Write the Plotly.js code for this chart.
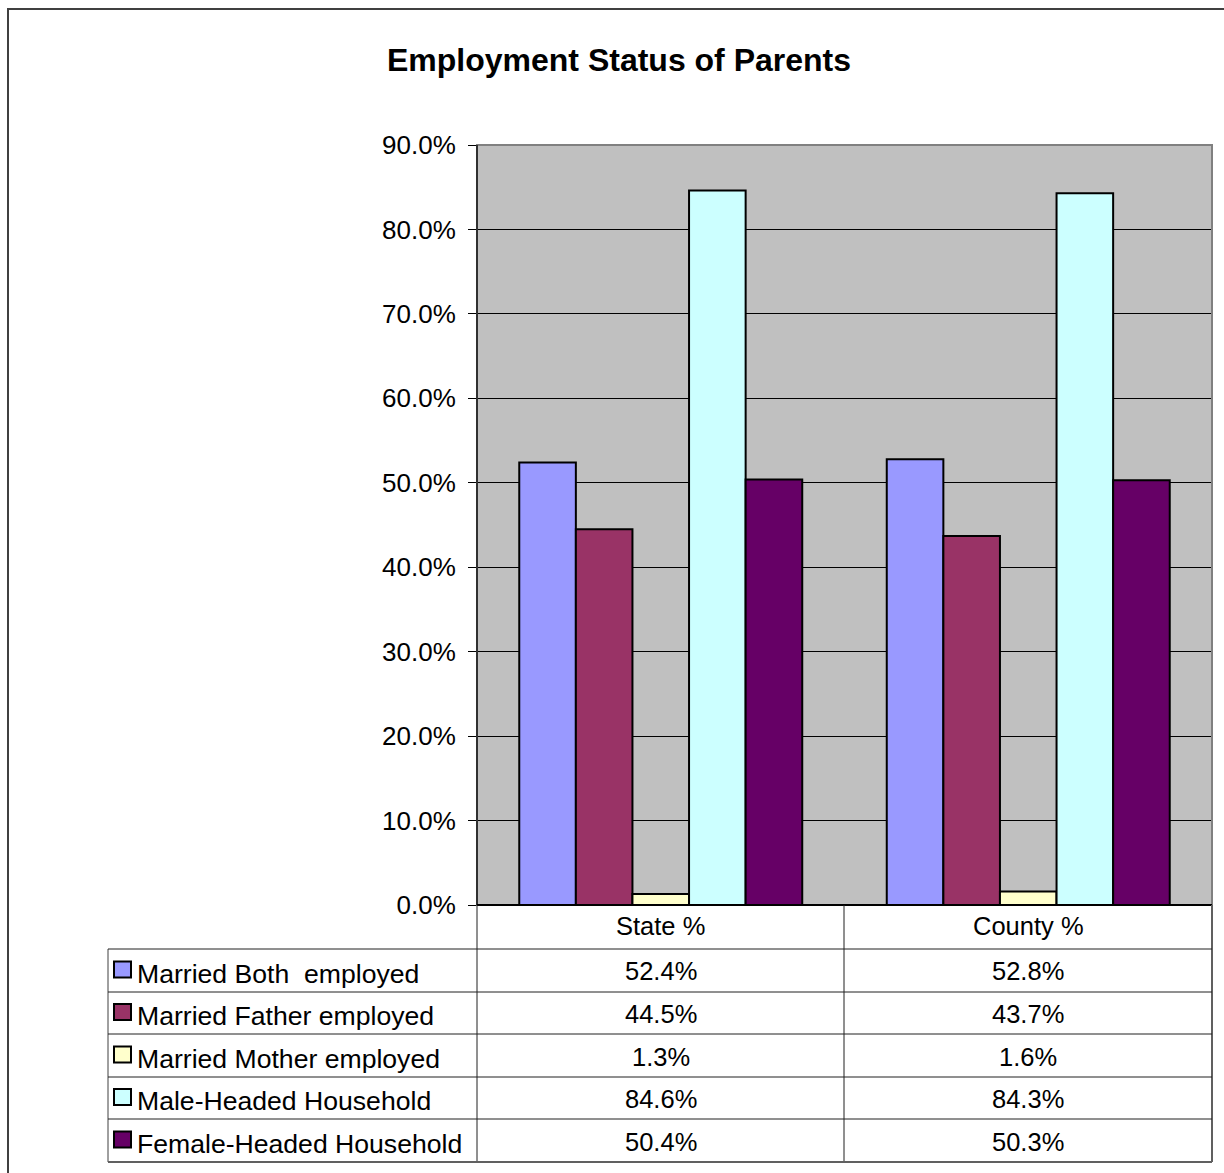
<!DOCTYPE html>
<html>
<head>
<meta charset="utf-8">
<script src="https://cdn.plot.ly/plotly-3.0.1.min.js"></script>
<style>
  html, body { margin: 0; padding: 0; background: #ffffff; }
  #chart { width: 1224px; height: 1173px; }
</style>
</head>
<body>
<div id="chart"></div>
<script>
// ---- Data ----
const categories = ["State %", "County %"];
const seriesNames = ["Married Both  employed", "Married Father employed", "Married Mother employed", "Male-Headed Household", "Female-Headed Household"];
const marriedBoth = [52.4, 52.8];
const marriedFather = [44.5, 43.7];
const marriedMother = [1.3, 1.6];
const maleHeaded = [84.6, 84.3];
const femaleHeaded = [50.4, 50.3];
const seriesColors = ["#9999FF", "#993366", "#FFFFCC", "#CCFFFF", "#660066"];
const titleText = "Employment Status of Parents";

const seriesValues = [marriedBoth, marriedFather, marriedMother, maleHeaded, femaleHeaded];

// ---- Layout geometry (pixels) ----
const W = 1224, H = 1173;
const L = 477, R = 1212, T = 145, B = 905;
const X = px => (px - L) / (R - L);
const Y = py => (B - py) / (B - T);
const FONT = "Liberation Sans, Arial, sans-serif";

const traces = seriesNames.map((name, i) => ({
  type: "bar",
  name: name,
  x: categories,
  y: seriesValues[i],
  marker: { color: seriesColors[i], line: { color: "#000000", width: 2 } },
  hoverinfo: "name+y"
}));

// Table geometry
const tableLeft = 108;
const headerTop = B, headerBottom = 949;
const rowLines = [949, 992, 1034, 1077, 1119, 1162];
const colLines = [477, 844, 1212];

const shapes = [];
const annotations = [];

// Outer chart border
shapes.push({ type: "rect", xref: "paper", yref: "paper", x0: X(8), x1: X(1240), y0: Y(9), y1: Y(1190),
  line: { color: "#404040", width: 2 }, fillcolor: "rgba(0,0,0,0)", layer: "below" });

// Plot area border (gray top/right)
shapes.push({ type: "rect", xref: "paper", yref: "paper", x0: 0, x1: 1, y0: 0, y1: 1,
  line: { color: "#808080", width: 2 }, fillcolor: "rgba(0,0,0,0)", layer: "above" });
// left axis & bottom line drawn dark
shapes.push({ type: "line", xref: "paper", yref: "paper", x0: 0, x1: 0, y0: 0, y1: 1, line: { color: "#303030", width: 2 } });
shapes.push({ type: "line", xref: "paper", yref: "paper", x0: 0, x1: 1, y0: 0, y1: 0, line: { color: "#000000", width: 2 } });

// Table vertical lines
colLines.forEach((cx, i) => {
  shapes.push({ type: "line", xref: "paper", yref: "paper", x0: X(cx), x1: X(cx), y0: Y(headerTop), y1: Y(1162),
    line: { color: i === 2 ? "#606060" : "#202020", width: i === 2 ? 2 : 1 } });
});
shapes.push({ type: "line", xref: "paper", yref: "paper", x0: X(tableLeft), x1: X(tableLeft), y0: Y(949), y1: Y(1162),
  line: { color: "#404040", width: 1 } });
// Table horizontal lines
rowLines.forEach((ry, i) => {
  shapes.push({ type: "line", xref: "paper", yref: "paper", x0: X(tableLeft), x1: X(1212), y0: Y(ry), y1: Y(ry),
    line: { color: i === rowLines.length - 1 ? "#606060" : "#202020", width: i === rowLines.length - 1 ? 2 : 1 } });
});

// Header labels
categories.forEach(c => {
  annotations.push({ x: c, xref: "x", y: Y((headerTop + headerBottom) / 2 - 1), yref: "paper",
    text: c, showarrow: false, xanchor: "center", yanchor: "middle",
    font: { family: FONT, size: 25.5, color: "#000000" } });
});

// Rows: legend key + name + values
seriesNames.forEach((name, i) => {
  const cy = (rowLines[i] + rowLines[i + 1]) / 2 + 1;
  shapes.push({ type: "rect", xref: "paper", yref: "paper", x0: X(114), x1: X(131), y0: Y(cy - 10), y1: Y(cy + 6),
    fillcolor: seriesColors[i], line: { color: "#000000", width: 2 } });
  annotations.push({ x: X(135), xref: "paper", y: Y(cy + 2), yref: "paper", text: name, showarrow: false,
    xanchor: "left", yanchor: "middle", font: { family: FONT, size: 26.6, color: "#000000" } });
  categories.forEach((c, j) => {
    annotations.push({ x: c, xref: "x", y: Y(cy), yref: "paper",
      text: seriesValues[i][j].toFixed(1) + "%", showarrow: false, xanchor: "center", yanchor: "middle",
      font: { family: FONT, size: 25.5, color: "#000000" } });
  });
});

const layout = {
  width: W, height: H,
  margin: { l: L, r: W - R, t: T, b: H - B, pad: 0 },
  paper_bgcolor: "#ffffff",
  plot_bgcolor: "#C0C0C0",
  title: { text: "<b>" + titleText + "</b>", xref: "container", yref: "container",
    x: 619 / W, y: 1 - 60 / H, xanchor: "center", yanchor: "middle",
    font: { family: FONT, size: 32, color: "#000000" } },
  showlegend: false,
  barmode: "group",
  bargap: 0.23,
  bargroupgap: 0,
  xaxis: { type: "category", showticklabels: false, ticks: "", showgrid: false, zeroline: false, showline: false, fixedrange: true },
  yaxis: { range: [0, 90], dtick: 10, tick0: 0, tickformat: ".1f", ticksuffix: "%",
    showgrid: true, gridcolor: "#000000", gridwidth: 1, zeroline: false,
    showline: false, ticks: "outside", ticklen: 8, tickcolor: "#000000", tickwidth: 1,
    tickfont: { family: FONT, size: 26, color: "#000000" }, ticklabelstandoff: 7, fixedrange: true },
  shapes: shapes,
  annotations: annotations
};

Plotly.newPlot("chart", traces, layout, { displayModeBar: false, staticPlot: true });
</script>
</body>
</html>
